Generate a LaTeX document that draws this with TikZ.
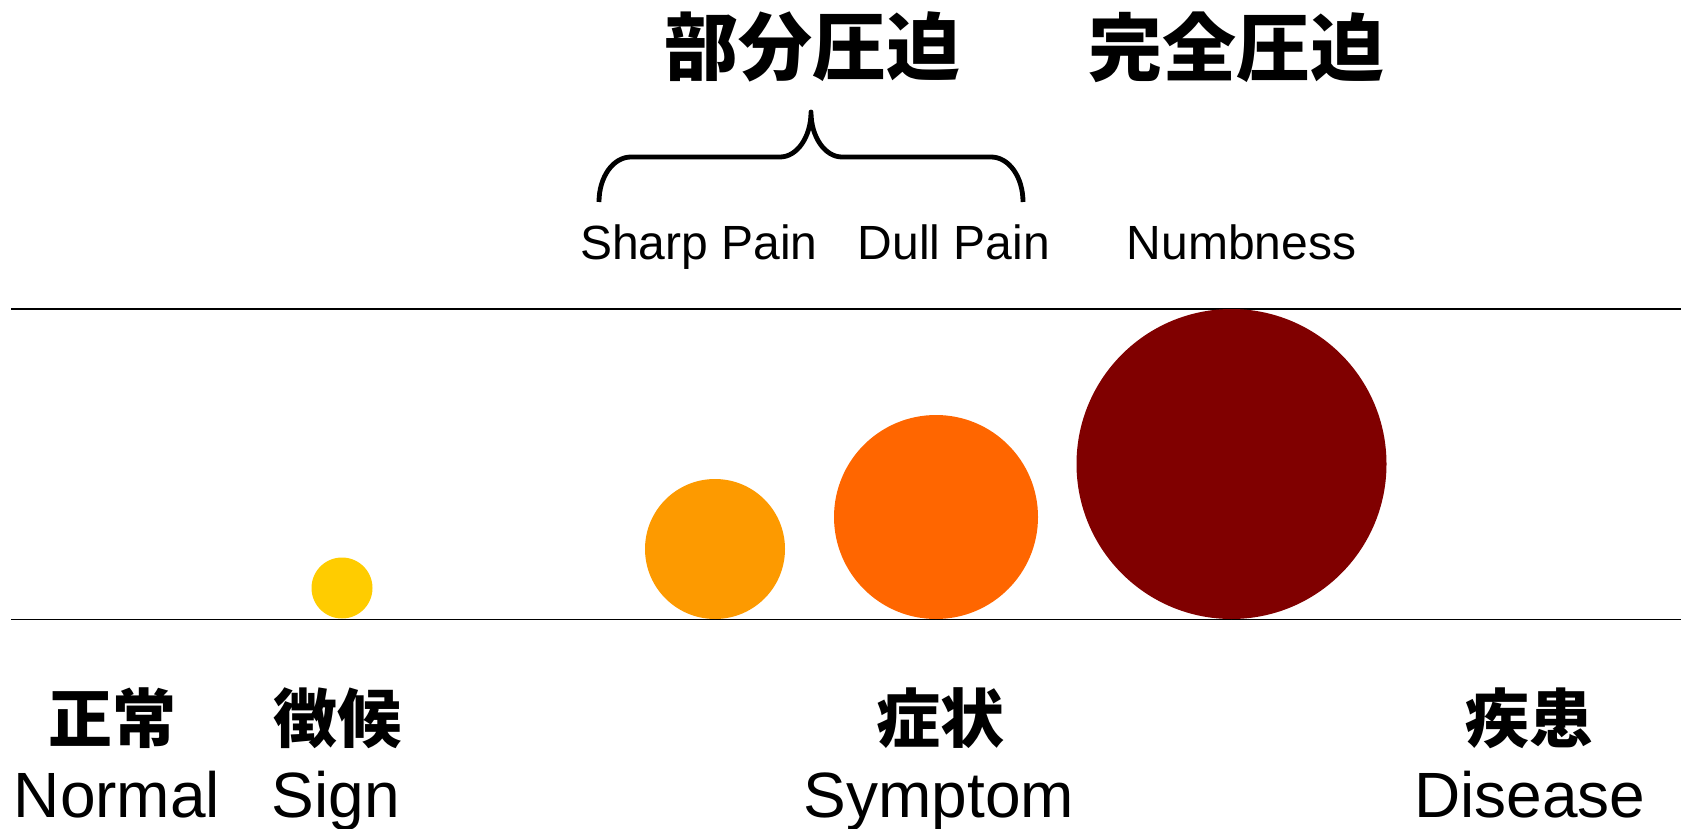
\documentclass[tikz,border=0pt]{standalone}
\usepackage{fontspec}
\setmainfont{Liberation Sans}
\newfontfamily\cjkfont{Noto Sans CJK JP}
\tikzset{
  lat/.style={anchor=base, inner sep=0pt, font=\fontsize{48}{56}\selectfont},
  latbig/.style={anchor=base, inner sep=0pt, font=\fontsize{64}{76}\selectfont},
  cjktitle/.style={anchor=center, inner sep=0pt, font=\cjkfont\bfseries\fontsize{74}{80}\selectfont},
  cjklabel/.style={anchor=center, inner sep=0pt, font=\cjkfont\bfseries\fontsize{64}{70}\selectfont},
  dot/.style={circle, inner sep=0pt, draw=none},
  rule/.style={line width=1.5pt, black},
  bracepath/.style={line width=4.8pt, line join=round}
}
\begin{document}
\begin{tikzpicture}[x=1pt,y=-1pt]
\useasboundingbox (0,0) rectangle (1681,829);
% titles
\node[cjktitle] (partial) at (812,47) {部分圧迫};
\node[cjktitle] (complete) at (1236,47) {完全圧迫};
% brace
\coordinate (bl) at (599,202);
\coordinate (br) at (1023,202);
\coordinate (tip) at (811,112);
\draw[bracepath] (bl) .. controls (599,177) and (613,157) .. (631,157)
  -- (780,157) .. controls (797,157) and (811,137) .. (tip)
  .. controls (811,137) and (825,157) .. (842,157)
  -- (991,157) .. controls (1009,157) and (1023,177) .. (br);
% pain labels
\node[lat] (sharp) at (699,259) {Sharp Pain};
\node[lat] (dull) at (954,259) {Dull Pain};
\node[lat] (numb) at (1241.5,259) {Numbness};
% rules
\coordinate (tl) at (11,309);
\coordinate (tr) at (1681,309);
\coordinate (ul) at (11,619.5);
\coordinate (ur) at (1681,619.5);
\draw[rule] (tl) -- (tr);
\draw[rule] (ul) -- (ur);
% circles
\node[dot, fill={rgb,255:red,255;green,204;blue,0}, minimum size=61pt] (c1) at (342,588) {};
\node[dot, fill={rgb,255:red,253;green,154;blue,0}, minimum size=140pt] (c2) at (715,549) {};
\node[dot, fill={rgb,255:red,255;green,102;blue,0}, minimum size=204pt] (c3) at (936,517) {};
\node[dot, fill={rgb,255:red,128;green,0;blue,0}, minimum size=310pt] (c4) at (1231.5,464) {};
% bottom labels
\node[cjklabel] (j1) at (112,718) {正常};
\node[cjklabel] (j2) at (337,718) {徴候};
\node[cjklabel] (j3) at (940,718) {症状};
\node[cjklabel] (j4) at (1529,718) {疾患};
\node[latbig] (e1) at (117,817) {Normal};
\node[latbig] (e2) at (336,817) {Sign};
\node[latbig] (e3) at (939,817) {Symptom};
\node[latbig] (e4) at (1530,817) {Disease};
\end{tikzpicture}
\end{document}
